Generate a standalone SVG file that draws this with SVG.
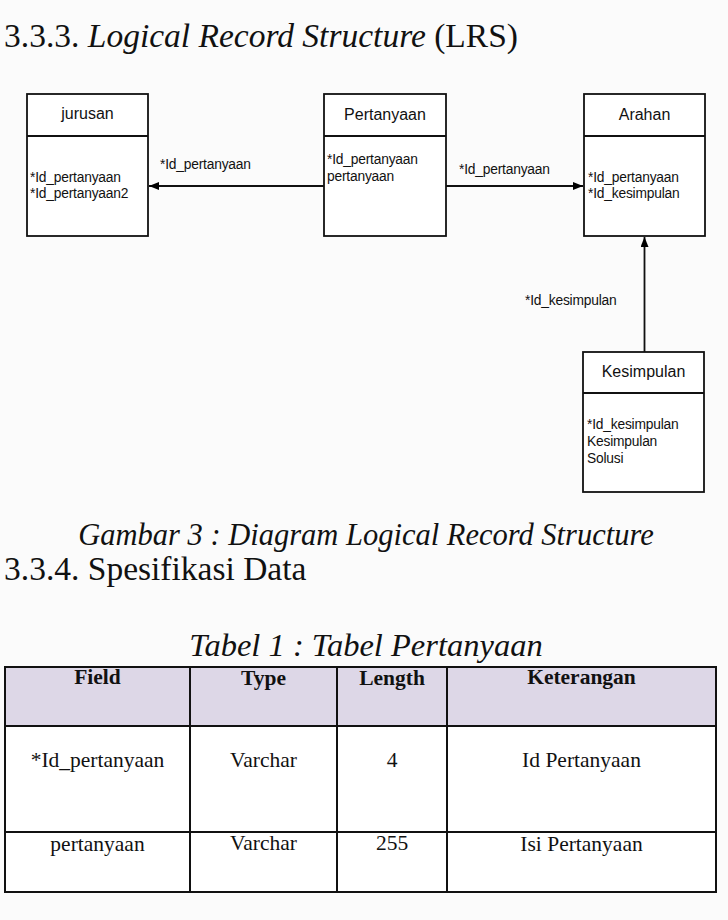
<svg xmlns="http://www.w3.org/2000/svg" width="728" height="920" viewBox="0 0 728 920">
<defs>
<marker id="arr" markerWidth="10" markerHeight="8" refX="10" refY="4" orient="auto" markerUnits="userSpaceOnUse">
<path d="M0,0 L10,4 L0,8 Z" fill="#000"/>
</marker>
<style>
.serif{font-family:"Liberation Serif","Times New Roman",serif;fill:#111}
.it{font-style:italic}
.box{fill:#fff;stroke:#111;stroke-width:1.8}
.hd{font-family:"Liberation Sans",Arial,sans-serif;font-size:16px;fill:#111;text-anchor:middle}
.at{font-family:"Liberation Sans",Arial,sans-serif;font-size:13.8px;fill:#111;letter-spacing:-0.2px}
.conn{stroke:#111;stroke-width:1.8;fill:none}
.th{font-family:"Liberation Serif","Times New Roman",serif;font-size:21.5px;font-weight:bold;fill:#111;text-anchor:middle}
.td{font-family:"Liberation Serif","Times New Roman",serif;font-size:21.5px;fill:#111;text-anchor:middle}
.tl{stroke:#111;stroke-width:2;fill:none}
</style>
</defs>
<rect width="728" height="920" fill="#fbfbfb"/>
<text x="4" y="47" class="serif" font-size="33.5">3.3.3. <tspan class="it">Logical Record Structure</tspan> (LRS)</text>

<g id="jurusan">
<rect x="27" y="94" width="121" height="142" class="box"/>
<line x1="27" y1="136" x2="148" y2="136" class="conn"/>
<text x="87.5" y="119" class="hd">jurusan</text>
<text x="30" y="182" class="at">*Id_pertanyaan</text>
<text x="30" y="198" class="at">*Id_pertanyaan2</text>
</g>
<g id="pertanyaan">
<rect x="324" y="94" width="122" height="142" class="box"/>
<line x1="324" y1="136" x2="446" y2="136" class="conn"/>
<text x="385" y="120" class="hd">Pertanyaan</text>
<text x="327" y="164" class="at">*Id_pertanyaan</text>
<text x="327" y="181" class="at">pertanyaan</text>
</g>
<g id="arahan">
<rect x="584" y="94" width="121" height="142" class="box"/>
<line x1="584" y1="136" x2="705" y2="136" class="conn"/>
<text x="644.5" y="120" class="hd">Arahan</text>
<text x="588" y="182" class="at">*Id_pertanyaan</text>
<text x="588" y="198" class="at">*Id_kesimpulan</text>
</g>
<g id="kesimpulan">
<rect x="583" y="352" width="121" height="140" class="box"/>
<line x1="583" y1="393" x2="704" y2="393" class="conn"/>
<text x="643.5" y="377" class="hd">Kesimpulan</text>
<text x="587" y="429" class="at">*Id_kesimpulan</text>
<text x="587" y="446" class="at">Kesimpulan</text>
<text x="587" y="463" class="at">Solusi</text>
</g>

<g id="connectors">
<line x1="324" y1="186" x2="149" y2="186" class="conn" marker-end="url(#arr)"/>
<text x="160" y="169" class="at">*Id_pertanyaan</text>
<line x1="446" y1="186" x2="583" y2="186" class="conn" marker-end="url(#arr)"/>
<text x="459" y="174" class="at">*Id_pertanyaan</text>
<line x1="644.5" y1="352" x2="644.5" y2="237" class="conn" marker-end="url(#arr)"/>
<text x="525" y="305" class="at">*Id_kesimpulan</text>
</g>

<text x="366" y="545" class="serif it" font-size="30.5" text-anchor="middle">Gambar 3 : Diagram Logical Record Structure</text>
<text x="4" y="580" class="serif" font-size="33.5">3.3.4. Spesifikasi Data</text>
<text x="366" y="656" class="serif it" font-size="32.5" text-anchor="middle">Tabel 1 : Tabel Pertanyaan</text>

<g id="table">
<rect x="5" y="667" width="711" height="59" fill="#ddd7e7"/>
<rect x="5" y="726" width="711" height="166" fill="#ffffff"/>
<rect x="5" y="667" width="711" height="225" class="tl"/>
<line x1="5" y1="726" x2="716" y2="726" class="tl"/>
<line x1="5" y1="832" x2="716" y2="832" class="tl"/>
<line x1="190" y1="667" x2="190" y2="892" class="tl"/>
<line x1="337" y1="667" x2="337" y2="892" class="tl"/>
<line x1="447" y1="667" x2="447" y2="892" class="tl"/>
<text x="97.5" y="684" class="th">Field</text>
<text x="263.5" y="685" class="th">Type</text>
<text x="392" y="685" class="th">Length</text>
<text x="581.5" y="684" class="th">Keterangan</text>
<text x="97.5" y="767" class="td">*Id_pertanyaan</text>
<text x="263.5" y="767" class="td">Varchar</text>
<text x="392" y="767" class="td">4</text>
<text x="581.5" y="767" class="td">Id Pertanyaan</text>
<text x="97.5" y="851" class="td">pertanyaan</text>
<text x="263.5" y="850" class="td">Varchar</text>
<text x="392" y="850" class="td">255</text>
<text x="581.5" y="851" class="td">Isi Pertanyaan</text>
</g>
</svg>
